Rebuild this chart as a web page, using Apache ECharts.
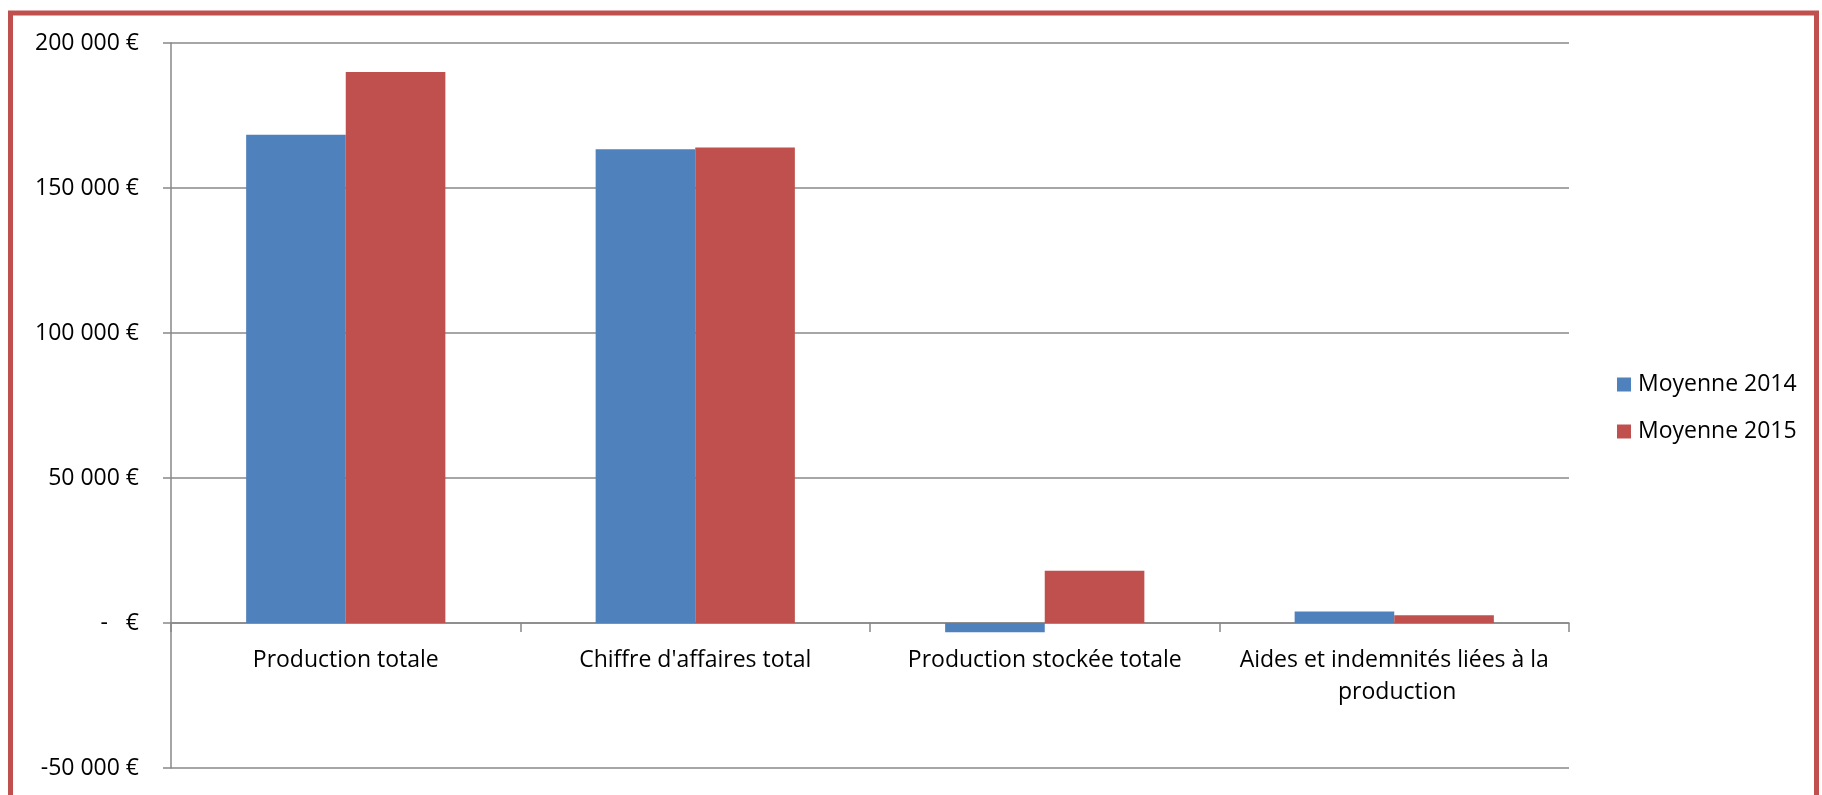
<!DOCTYPE html>
<html><head><meta charset="utf-8">
<script src="https://cdn.jsdelivr.net/npm/echarts@6/dist/echarts.min.js"></script>
<style>html,body{margin:0;padding:0;background:#fff}#c{width:1822px;height:795px}</style>
</head><body><div id="c"></div>
<script>
const categories = ["Production totale", "Chiffre d'affaires total", "Production stockée totale", "Aides et indemnités liées à la production"];
const seriesNames = ["Moyenne 2014", "Moyenne 2015"];
const values2014 = [168400, 163400, -3200, 4000];
const values2015 = [190000, 164000, 18000, 2700];
const yMin = -50000, yMax = 200000, yStep = 50000;

function fmt(v) {
  if (v === 0) return '-   €';
  const s = Math.abs(v).toString().replace(/\B(?=(\d{3})+(?!\d))/g, ' ');
  return (v < 0 ? '-' : '') + s + ' €';
}
const FONT = 'Open Sans';
const chart = echarts.init(document.getElementById('c'));
const gridTop = 43, gridBottom = 27, H = 795;
// pixel distance from grid bottom (yMin) up to the zero line
const zeroOffset = -((0 - yMin) / (yMax - yMin)) * (H - gridTop - gridBottom);
chart.setOption({
  animation: false,
  textStyle: { fontFamily: FONT },
  graphic: [{
    type: 'rect', z: 100, silent: true,
    shape: { x: 10.5, y: 13, width: 1806, height: 900 },
    style: { fill: 'none', stroke: '#C0504D', lineWidth: 5 }
  }],
  grid: { left: 171, right: 253, top: gridTop, bottom: gridBottom, outerBoundsMode: 'none', containLabel: false },
  legend: {
    orient: 'vertical', left: 1612, top: 368,
    itemWidth: 14, itemHeight: 14, itemGap: 24,
    icon: 'rect',
    textStyle: { fontFamily: FONT, fontSize: 23, color: '#000', padding: [0, 0, 0, 2] },
    data: seriesNames
  },
  xAxis: {
    type: 'category', data: categories,
    offset: zeroOffset,
    axisLine: { onZero: false, lineStyle: { color: '#888', width: 1.5 } },
    axisTick: { show: true, length: 9, alignWithLabel: false, lineStyle: { color: '#888', width: 1.5 } },
    axisLabel: {
      interval: 0, margin: 21, fontFamily: FONT, fontSize: 23, color: '#000',
      width: 340, overflow: 'break', lineHeight: 32
    }
  },
  yAxis: {
    type: 'value', min: yMin, max: yMax, interval: yStep,
    axisLine: { show: true, lineStyle: { color: '#888', width: 1.5 } },
    axisTick: { show: true, length: 8, lineStyle: { color: '#888', width: 1.5 } },
    splitLine: { show: true, lineStyle: { color: '#888', width: 1.5 } },
    axisLabel: { formatter: fmt, margin: 32, fontFamily: FONT, fontSize: 23, color: '#000' }
  },
  series: [
    { name: seriesNames[0], type: 'bar', data: values2014, barGap: '0%', barCategoryGap: '43%',
      itemStyle: { color: '#4F81BD' } },
    { name: seriesNames[1], type: 'bar', data: values2015, barGap: '0%', barCategoryGap: '43%',
      itemStyle: { color: '#C0504D' } }
  ]
});
</script></body></html>
